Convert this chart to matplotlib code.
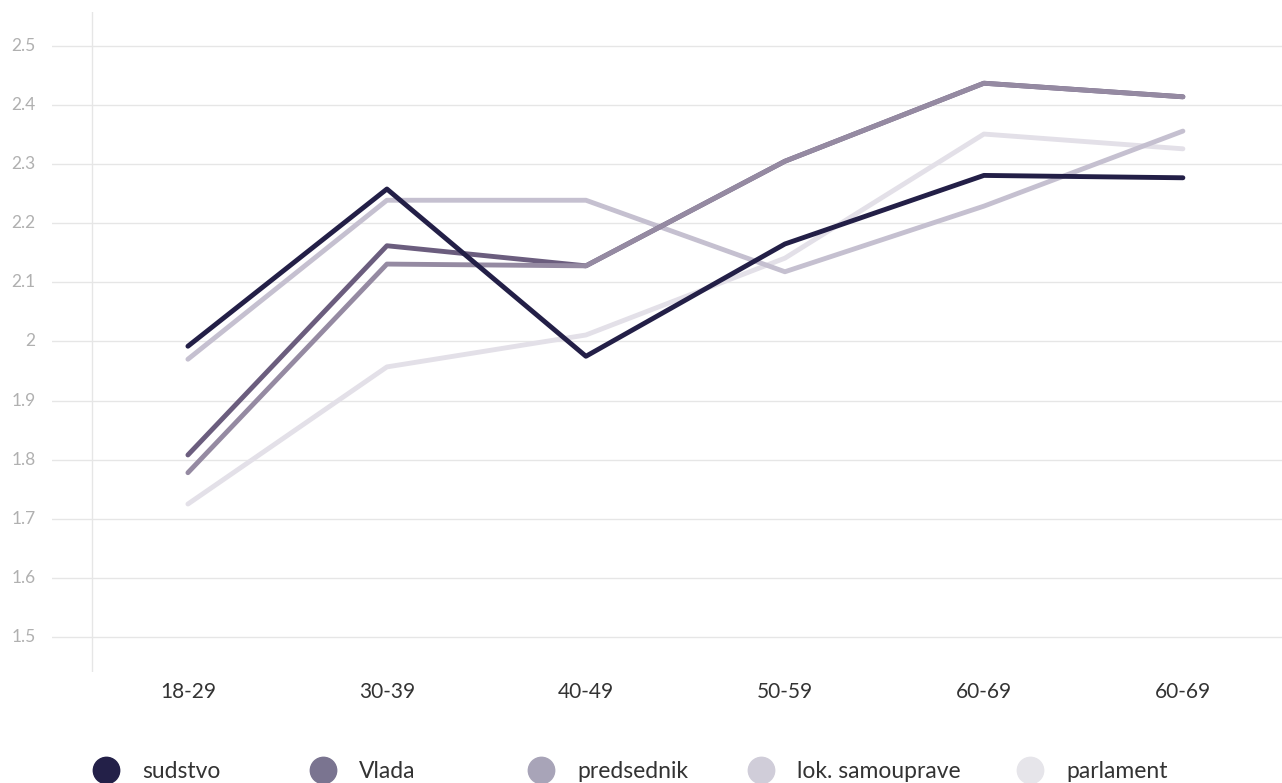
import numpy as np
import matplotlib.pyplot as plt
from matplotlib.lines import Line2D

plt.rcParams['font.family'] = ['Lato', 'DejaVu Sans']

# categories (age groups)
groups = ['18-29', '30-39', '40-49', '50-59', '60-69', '60-69']

# series values
sudstvo = [1.992, 2.258, 1.975, 2.165, 2.281, 2.277]
vlada = [1.808, 2.162, 2.128, 2.305, 2.437, 2.414]
predsednik = [1.778, 2.131, 2.128, 2.305, 2.437, 2.414]
lok_samouprave = [1.970, 2.239, 2.239, 2.118, 2.229, 2.356]
parlament = [1.725, 1.957, 2.011, 2.141, 2.351, 2.326]

names = ['sudstvo', 'Vlada', 'predsednik', 'lok. samouprave', 'parlament']
series = [sudstvo, vlada, predsednik, lok_samouprave, parlament]
line_colors = ['#231f47', '#6b5d7e', '#958aa2', '#c5c0d0', '#e3e0e8']
dot_colors = ['#232048', '#7a7490', '#a8a4b8', '#d0cdd9', '#e6e5ea']
yticks = [1.5, 1.6, 1.7, 1.8, 1.9, 2.0, 2.1, 2.2, 2.3, 2.4, 2.5]
ytick_labels = ['1.5', '1.6', '1.7', '1.8', '1.9', '2', '2.1', '2.2', '2.3', '2.4', '2.5']

fig = plt.figure(figsize=(12.82, 7.83), dpi=100)
ax = fig.add_axes([52 / 1282, 111 / 783, 1230 / 1282, 660 / 783])

x = np.arange(len(groups))
# draw lightest first so the dark ones sit on top
order = [4, 3, 1, 2, 0]
for i in order:
    ax.plot(x, series[i], color=line_colors[i], lw=3.5,
            solid_capstyle='round', solid_joinstyle='round', zorder=3)

ax.set_xlim(-0.683, 5.498)
ax.set_ylim(1.4408, 2.5575)
for yt in yticks:
    ax.axhline(yt, color='#e6e6e6', lw=1, zorder=1)
ax.axvline(-0.482, color='#e6e6e6', lw=1, zorder=1)

for s in ax.spines.values():
    s.set_visible(False)
ax.set_yticks(yticks)
ax.set_yticklabels([])
ax.tick_params(length=0)
for yt, lab in zip(yticks, ytick_labels):
    ax.text(-0.765, yt, lab, ha='right', va='center', fontsize=12.5,
            color='#b0b0b0', transform=ax.transData, clip_on=False)
ax.set_xticks(x)
ax.set_xticklabels(groups, fontsize=15, color='#333333')
ax.tick_params(axis='x', pad=7)

# legend row
dot_x = [106, 323, 541, 761, 1030]
for nm, c, dx in zip(names, dot_colors, dot_x):
    fig.add_artist(Line2D([dx / 1282], [1 - 770 / 783], marker='o', markersize=19,
                          color=c, transform=fig.transFigure, lw=0))
    fig.text((dx + 36) / 1282, 1 - 771 / 783, nm, fontsize=16.5, color='#333333',
             va='center', ha='left')

fig.savefig('out.png', dpi=100, facecolor='white')
